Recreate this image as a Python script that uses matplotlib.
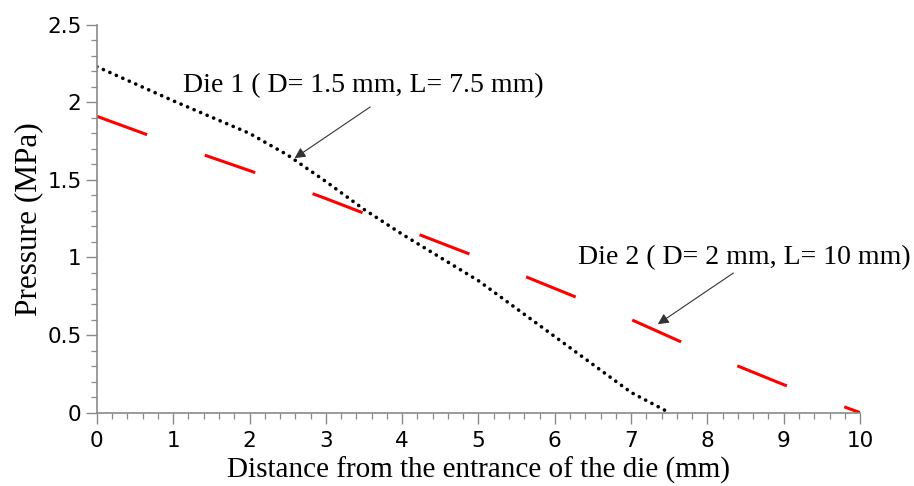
import matplotlib
matplotlib.use("Agg")
import matplotlib.pyplot as plt
from matplotlib.ticker import MultipleLocator

plt.rcParams['lines.scale_dashes'] = False

# Die 1 (D = 1.5 mm, L = 7.5 mm)
die1_x = [0, 1, 2, 2.5, 3, 3.5, 4, 4.5, 5, 5.5, 6, 6.5, 7, 7.5]
die1_p = [2.23, 2.01, 1.80, 1.66, 1.49, 1.31, 1.15, 1.00, 0.85, 0.67, 0.49, 0.31, 0.13, 0.0]

# Die 2 (D = 2 mm, L = 10 mm)
die2_x = [0, 1, 2, 3, 4, 5, 6, 7, 8, 9, 10]
die2_p = [1.91, 1.73, 1.56, 1.38, 1.19, 1.00, 0.80, 0.60, 0.38, 0.18, 0.0]

xticks = [0, 1, 2, 3, 4, 5, 6, 7, 8, 9, 10]
yticks = [0, 0.5, 1, 1.5, 2, 2.5]
yticklabels = ['0', '0.5', '1', '1.5', '2', '2.5']

serif = 'Liberation Serif'
axis_grey = '#8a8a8a'

fig = plt.figure(figsize=(9.14, 4.86), dpi=100)
ax = fig.add_axes([0.106, 0.151, 0.835, 0.798])

ax.plot(die2_x, die2_p, color='#ff0000', lw=2.2, linestyle=(0, (38.5, 44)),
        solid_capstyle='butt', dash_capstyle='butt')
ax.plot(die1_x, die1_p, color='black', lw=2.6, linestyle=(0, (0.1, 5.0)),
        dash_capstyle='round')

ax.set_xlim(0, 10)
ax.set_ylim(0, 2.5)
ax.set_xticks(xticks)
ax.set_yticks(yticks)
ax.set_yticklabels(yticklabels)
ax.xaxis.set_minor_locator(MultipleLocator(0.2))
ax.yaxis.set_minor_locator(MultipleLocator(0.1))

for side in ['top', 'right']:
    ax.spines[side].set_visible(False)
for side in ['left', 'bottom']:
    ax.spines[side].set_color(axis_grey)
    ax.spines[side].set_linewidth(1.2)

ax.tick_params(which='major', direction='out', length=8.0, width=1.0,
               color=axis_grey, labelsize=15.5, pad=3)
ax.tick_params(axis='x', which='major', pad=5)
ax.tick_params(which='minor', direction='out', length=4.0, width=0.9,
               color=axis_grey)

ax.set_xlabel('Distance from the entrance of the die (mm)', family=serif,
              fontsize=21, labelpad=4)
ax.set_ylabel('Pressure (MPa)', family=serif, fontsize=22.5, labelpad=3)

arrow = dict(arrowstyle='-|>', color='#333333', lw=0.8, mutation_scale=16,
             shrinkA=0, shrinkB=0)
ax.annotate('', xy=(2.59, 1.64), xytext=(3.58, 1.97), arrowprops=arrow)
ax.text(1.13, 2.11, 'Die 1 ( D= 1.5 mm, L= 7.5 mm)', family=serif, fontsize=20,
        va='center', ha='left')
ax.annotate('', xy=(7.35, 0.57), xytext=(8.34, 0.90), arrowprops=arrow)
ax.text(6.30, 1.0, 'Die 2 ( D= 2 mm, L= 10 mm)', family=serif, fontsize=20,
        va='center', ha='left', clip_on=False)

fig.savefig('out.png', dpi=100)
